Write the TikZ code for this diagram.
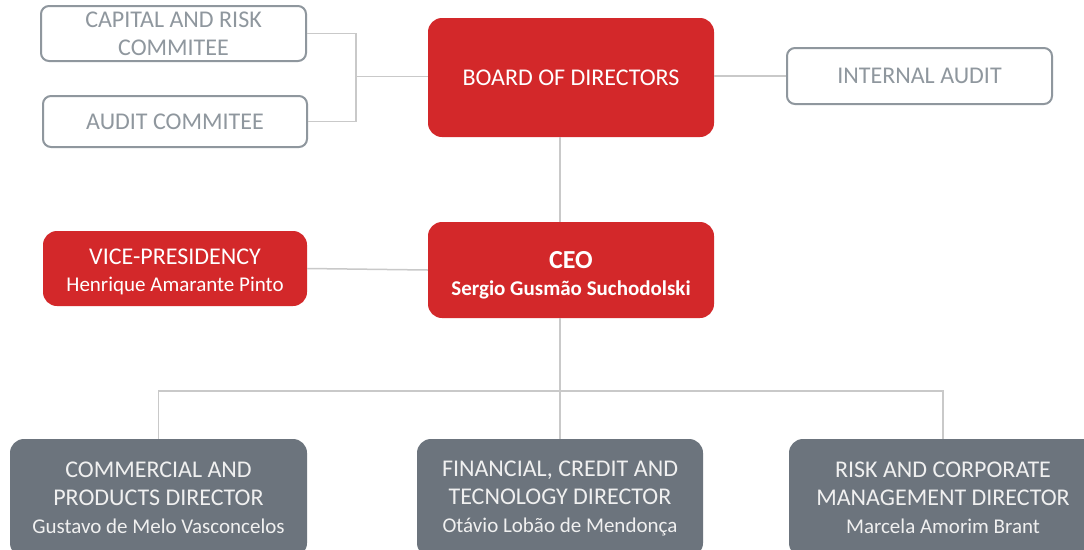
\documentclass[tikz,border=0pt]{standalone}
\usepackage{fontspec}
\setmainfont{Carlito}
\usepackage{xcolor}
\usepackage{tikz}
\usetikzlibrary{positioning,calc}
\definecolor{bankred}{RGB}{211,40,42}
\definecolor{bankgrey}{RGB}{108,116,125}
\definecolor{edgegrey}{RGB}{143,151,158}
\definecolor{linkgrey}{RGB}{201,201,201}
\newcommand{\titlefont}{\fontsize{24}{28}\selectfont}
\newcommand{\namefont}{\fontsize{21}{28}\selectfont}

\begin{document}
\begin{tikzpicture}[
        x=1pt, y=-1pt,
        every node/.style={font=\titlefont},
        outlinebox/.style={rectangle, draw=edgegrey, line width=2pt, rounded corners=8pt, text=edgegrey, fill=white, align=center, inner sep=0pt},
        redbox/.style={rectangle, fill=bankred, rounded corners=14pt, text=white, align=center, inner sep=0pt},
        greybox/.style={rectangle, fill=bankgrey, rounded corners=14pt, text=white!94!black, align=center, inner sep=0pt},
        link/.style={draw=linkgrey, line width=1.5pt}
    ]
        \clip (0,0) rectangle (1084,549);
        \fill[white] (0,0) rectangle (1084,549);

        \node[outlinebox, minimum width=265, minimum height=55] (capital) at (173.5,33.5) {CAPITAL AND RISK\\COMMITEE};
        \node[outlinebox, minimum width=264, minimum height=51] (auditc) at (175,121.5) {AUDIT COMMITEE};
        \node[redbox, minimum width=286, minimum height=119] (board) at (571,77.5) {BOARD OF DIRECTORS};
        \node[outlinebox, minimum width=265, minimum height=56] (internal) at (919.5,76) {INTERNAL AUDIT};
        \node[redbox, minimum width=264, minimum height=75] (vice) at (175,268.5) {\rule{0pt}{23pt}VICE-PRESIDENCY\\[-1pt]{\namefont Henrique Amarante Pinto}};
        \node[redbox, minimum width=286, minimum height=96] (ceo) at (571,270) {\rule{0pt}{27pt}{\fontsize{26}{28}\selectfont\bfseries CEO}\\[-1pt]{\namefont\bfseries Sergio Gusmão Suchodolski}};
        \node[greybox, minimum width=297, minimum height=118] (commercial) at (158.5,498) {COMMERCIAL AND\\PRODUCTS DIRECTOR\\{\namefont Gustavo de Melo Vasconcelos}};
        \node[greybox, minimum width=286, minimum height=118] (financial) at (560,498) {FINANCIAL, CREDIT AND\\TECNOLOGY DIRECTOR\\{\namefont Otávio Lobão de Mendonça}};
        \node[greybox, minimum width=308, minimum height=118] (risk) at (943,498) {RISK AND CORPORATE\\MANAGEMENT DIRECTOR\\{\namefont Marcela Amorim Brant}};

        \coordinate (leftbus) at (356,76.5);
        \coordinate (downbus) at (560,391);

        \draw[link] (capital.east) -| (leftbus) |- (auditc.east);
        \draw[link] (leftbus) -- (leftbus -| board.west);
        \draw[link] (board.east |- internal.west) -- (internal.west);
        \draw[link] (board.south -| downbus) -- (ceo.north -| downbus);
        \draw[link] (vice.east) -- (ceo.west);
        \draw[link] (ceo.south -| downbus) -- (downbus);
        \draw[link] (commercial.north) |- (downbus) -| (risk.north);
        \draw[link] (downbus) -- (financial.north);
    \end{tikzpicture}
\end{document}
